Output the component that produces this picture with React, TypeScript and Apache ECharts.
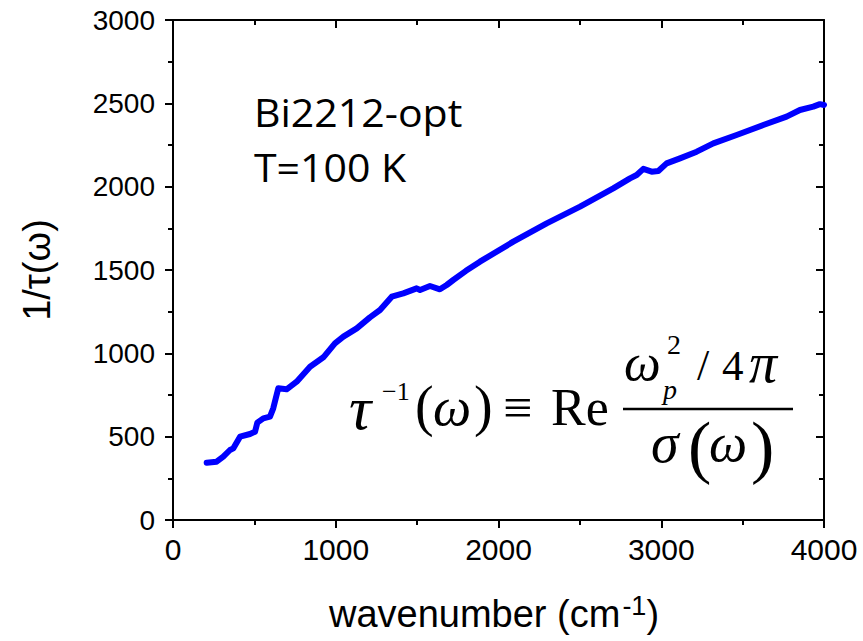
import React, { useEffect, useRef } from "react";
import * as echarts from "echarts";

// wavenumber (cm^-1)
const wavenumber = [
  207, 268, 309, 350, 371, 412, 473, 504, 518, 555, 596, 616, 647, 698, 760,
  842, 924, 995, 1047, 1129, 1210, 1272, 1344, 1415, 1497, 1518, 1579, 1640,
  1682, 1722, 1800, 1886, 2091, 2296, 2501, 2705, 2808, 2849, 2890, 2941,
  2982, 3033, 3115, 3218, 3320, 3463, 3627, 3770, 3852, 3934, 3975, 4000,
];
// 1/tau(omega)
const scatteringRate = [
  344, 350, 380, 420, 430, 500, 516, 530, 584, 610, 620, 670, 790, 784, 830,
  920, 976, 1060, 1100, 1150, 1216, 1260, 1340, 1360, 1390, 1380, 1404, 1384,
  1410, 1440, 1495, 1550, 1670, 1780, 1880, 1990, 2050, 2070, 2107, 2090,
  2094, 2140, 2170, 2210, 2260, 2310, 2370, 2420, 2460, 2480, 2495, 2490,
];

const X_MIN = 0, X_MAX = 4000, X_STEP = 1000;
const Y_MIN = 0, Y_MAX = 3000, Y_STEP = 500;
const sampleLines = ["Bi2212-opt", "T=100 K"];
const xNameParts = ["wavenumber (cm", "-1", ")"];

const SERIF = "'Liberation Serif', 'Times New Roman', serif";
const SANS = "'Liberation Sans', Arial, sans-serif";
const CAL = "'Open Sans', 'Noto Sans', sans-serif";

function txt(text: string, x: number, y: number, fontSize: number, italic = false, family = SERIF, scaleX = 1) {
  return {
    type: "text",
    x,
    y,
    scaleX,
    silent: true,
    style: {
      text,
      fontSize,
      fontFamily: family,
      fontStyle: italic ? "italic" : "normal",
      fill: "#000",
      align: "left",
      textAlign: "left",
      verticalAlign: "middle",
      textVerticalAlign: "middle",
    },
  };
}

function measure(text: string, size: number, family: string) {
  const c = document.createElement("canvas").getContext("2d");
  if (!c) return text.length * size * 0.55;
  c.font = `${size}px ${family}`;
  return c.measureText(text).width;
}

export default function App() {
  const ref = useRef<HTMLDivElement>(null);
  useEffect(() => {
    if (!ref.current) return;
    const chart = echarts.init(ref.current, undefined, { renderer: "svg" });
    const data = wavenumber.map((x, i) => [x, scatteringRate[i]]);
    const axisLine = { show: true, onZero: false, lineStyle: { color: "#000", width: 2 } };
    const plain = (v: number) => String(v);

    // x-axis title with superscript, centred under the plot
    const mainSize = 38, supSize = 27;
    const w0 = measure(xNameParts[0], mainSize, SANS);
    const w1 = measure(xNameParts[1], supSize, SANS);
    const w2 = measure(xNameParts[2], mainSize, SANS);
    const gap = 2;
    const total = w0 + gap + w1 + w2;
    const cx = 494;
    const x0 = cx - total / 2;

    chart.setOption({
      animation: false,
      backgroundColor: "#fff",
      grid: { left: 173, right: 39, top: 20, bottom: 121 },
      xAxis: [
        {
          type: "value",
          position: "bottom",
          min: X_MIN,
          max: X_MAX,
          interval: X_STEP,
          axisLine,
          axisTick: { show: true, inside: false, length: 8, lineStyle: { color: "#000", width: 2 } },
          minorTick: { show: true, splitNumber: 2, length: 5, lineStyle: { color: "#000", width: 2 } },
          splitLine: { show: false },
          axisLabel: { fontSize: 30, fontFamily: SANS, color: "#000", margin: 14, formatter: plain },
        },
        {
          type: "value",
          position: "top",
          min: X_MIN,
          max: X_MAX,
          interval: X_STEP,
          axisLine,
          axisTick: { show: true, inside: true, length: 8, lineStyle: { color: "#000", width: 2 } },
          minorTick: { show: true, splitNumber: 2, length: 5, lineStyle: { color: "#000", width: 2 } },
          splitLine: { show: false },
          axisLabel: { show: false },
        },
      ],
      yAxis: [
        {
          type: "value",
          position: "left",
          min: Y_MIN,
          max: Y_MAX,
          interval: Y_STEP,
          axisLine,
          axisTick: { show: true, inside: false, length: 8, lineStyle: { color: "#000", width: 2 } },
          minorTick: { show: true, splitNumber: 2, length: 5, lineStyle: { color: "#000", width: 2 } },
          splitLine: { show: false },
          axisLabel: { fontSize: 28, fontFamily: SANS, color: "#000", margin: 18, formatter: plain },
          name: "1/τ(ω)",
          nameLocation: "middle",
          nameGap: 117,
          nameTextStyle: { fontSize: 38, fontFamily: SANS, color: "#000" },
        },
        {
          type: "value",
          position: "right",
          min: Y_MIN,
          max: Y_MAX,
          interval: Y_STEP,
          axisLine,
          axisTick: { show: true, inside: true, length: 8, lineStyle: { color: "#000", width: 2 } },
          minorTick: { show: true, splitNumber: 2, length: 5, lineStyle: { color: "#000", width: 2 } },
          splitLine: { show: false },
          axisLabel: { show: false },
        },
      ],
      series: [
        {
          type: "line",
          xAxisIndex: 0,
          yAxisIndex: 0,
          data,
          showSymbol: false,
          symbol: "none",
          smooth: false,
          lineStyle: { color: "#0000ff", width: 6, join: "round", cap: "round" },
        },
      ],
      graphic: [
        // x-axis title
        txt(xNameParts[0], x0, 614, mainSize, false, SANS),
        txt(xNameParts[1], x0 + w0 + gap, 606, supSize, false, SANS),
        txt(xNameParts[2], x0 + w0 + gap + w1, 614, mainSize, false, SANS),
        // sample annotation
        txt(sampleLines[0], 254, 113, 38, false, CAL, 1.08),
        txt(sampleLines[1], 254, 168, 38, false, CAL, 1.08),
        // formula, main row
        txt("τ", 349, 408, 62, true),
        txt("−1", 382, 391, 26),
        txt("(", 415, 406, 56),
        txt("ω", 433, 407, 54, true),
        txt(")", 474, 406, 56),
        txt("≡", 503, 407, 52),
        txt("Re", 551, 407, 52),
        {
          type: "line",
          silent: true,
          shape: { x1: 623, y1: 409, x2: 793, y2: 409 },
          style: { stroke: "#000", lineWidth: 2.5 },
        },
        // numerator
        txt("ω", 624, 362, 52, true),
        txt("2", 667, 344, 28),
        txt("p", 663, 389, 28, true),
        txt("/", 697, 365, 44),
        txt("4", 722, 365, 43),
        txt("π", 749, 363, 56, true),
        // denominator
        txt("σ", 651, 443, 56, true),
        txt("(", 688, 446, 70),
        txt("ω", 709, 443, 54, true),
        txt(")", 751, 446, 70),
      ],
    });
    return () => chart.dispose();
  }, []);
  return (
    <div
      ref={ref}
      style={{ position: "fixed", left: 0, top: 0, width: 863, height: 641, background: "#fff" }}
    />
  );
}
